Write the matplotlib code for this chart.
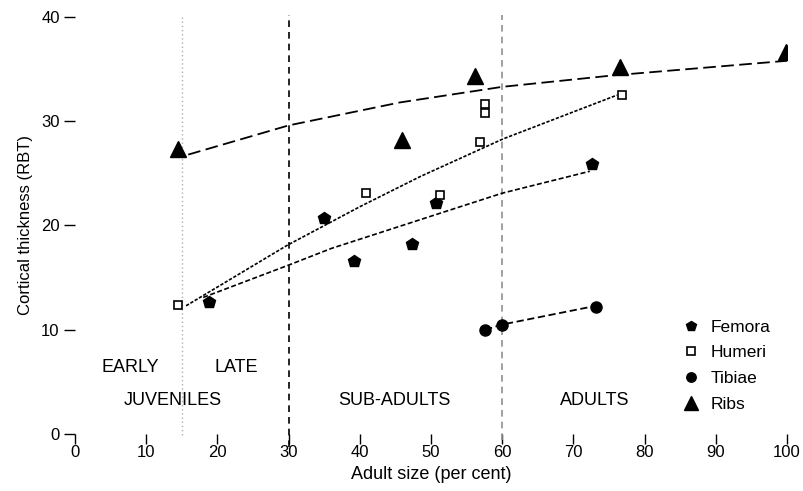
import numpy as np
import matplotlib
matplotlib.use('Agg')
import matplotlib.pyplot as plt

plt.rcParams['font.family'] = ['Liberation Sans', 'DejaVu Sans']

# data (x = adult size %, y = cortical thickness RBT)
femora_x = [18.8, 35.0, 39.2, 47.3, 50.7, 72.6]
femora_y = [12.7, 20.7, 16.6, 18.2, 22.2, 25.9]
humeri_x = [14.5, 40.9, 51.3, 57.6, 57.6, 56.9, 76.8]
humeri_y = [12.4, 23.1, 22.9, 31.7, 30.8, 28.0, 32.5]
tibiae_x = [57.6, 60.0, 73.2]
tibiae_y = [10.0, 10.5, 12.2]
ribs_x = [14.5, 45.9, 56.2, 76.5, 99.9]
ribs_y = [27.3, 28.2, 34.3, 35.2, 36.6]

# fitted curves
ribs_fit_x = [15.9, 30, 45.6, 60, 75.6, 100]
ribs_fit_y = [26.8, 29.6, 31.8, 33.3, 34.4, 35.8]
humeri_fit_x = [15.6, 29.8, 40, 48.5, 60.1, 76.1]
humeri_fit_y = [12.3, 18.1, 21.8, 24.7, 28.3, 32.5]
femora_fit_x = [18, 30, 36, 54.1, 60, 72.3]
femora_fit_y = [13.1, 16.2, 17.8, 21.8, 23.1, 25.2]
tibiae_fit_x = [57.6, 60.0, 73.2]
tibiae_fit_y = [10.0, 10.5, 12.3]

stage_labels = ['EARLY', 'LATE', 'JUVENILES', 'SUB-ADULTS', 'ADULTS']
stage_x = [7.7, 22.6, 13.8, 44.8, 73.0]
stage_y = [6.4, 6.4, 3.2, 3.2, 3.2]

xticks = np.arange(0, 101, 10)
yticks = np.arange(0, 41, 10)

fig = plt.figure(figsize=(8.04, 4.91), dpi=100)
ax = fig.add_axes([0.0933, 0.1161, 0.8856, 0.8493])

# stage boundaries
ax.plot([15, 15], [-0.1, 40.2], color='#b0b0b0', lw=1, ls=(0, (1, 2)), clip_on=False)
ax.plot([30, 30], [-1.2, 40.2], color='black', lw=1.2, ls=(0, (4, 3)), clip_on=False)
ax.plot([60, 60], [-0.6, 40.2], color='#909090', lw=1.2, ls=(0, (4, 3)), clip_on=False)

# fit lines
ax.plot(ribs_fit_x, ribs_fit_y, color='black', lw=1.3, ls=(0, (7, 3)))
ax.plot(humeri_fit_x, humeri_fit_y, color='black', lw=1.2, ls=(0, (2, 1)))
ax.plot(femora_fit_x, femora_fit_y, color='black', lw=1.2, ls=(0, (3, 1.5)))
ax.plot(tibiae_fit_x, tibiae_fit_y, color='black', lw=1.3, ls=(0, (4, 2)))

# points
ax.plot(femora_x, femora_y, ls='none', marker='p', ms=9, color='black', label='Femora')
ax.plot(humeri_x, humeri_y, ls='none', marker='s', ms=6, mfc='white', mec='black',
        mew=1.2, label='Humeri')
ax.plot(tibiae_x, tibiae_y, ls='none', marker='o', ms=8, color='black', label='Tibiae')
ax.plot(ribs_x, ribs_y, ls='none', marker='^', ms=12, color='black', label='Ribs')

for lab, tx, ty in zip(stage_labels, stage_x, stage_y):
    ax.text(tx, ty, lab, ha='center', va='center', fontsize=13)

ax.set_xlim(0, 100)
ax.set_ylim(0, 40)
ax.set_xticks(xticks)
ax.set_yticks(yticks)
ax.tick_params(axis='x', length=7, width=1, pad=1, labelsize=12)
ax.tick_params(axis='y', length=8, width=1, pad=3, labelsize=12)
for s in ax.spines.values():
    s.set_visible(False)

ax.set_xlabel('Adult size (per cent)', fontsize=13, labelpad=4)
ax.set_ylabel('Cortical thickness (RBT)', fontsize=12, labelpad=6)

ax.legend(loc='upper left', bbox_to_anchor=(0.853, 0.274), frameon=False,
          fontsize=12.5, handlelength=1.0, handletextpad=0.6, labelspacing=0.6,
          borderpad=0, borderaxespad=0, markerscale=0.85)

fig.savefig('out.png', dpi=100)
